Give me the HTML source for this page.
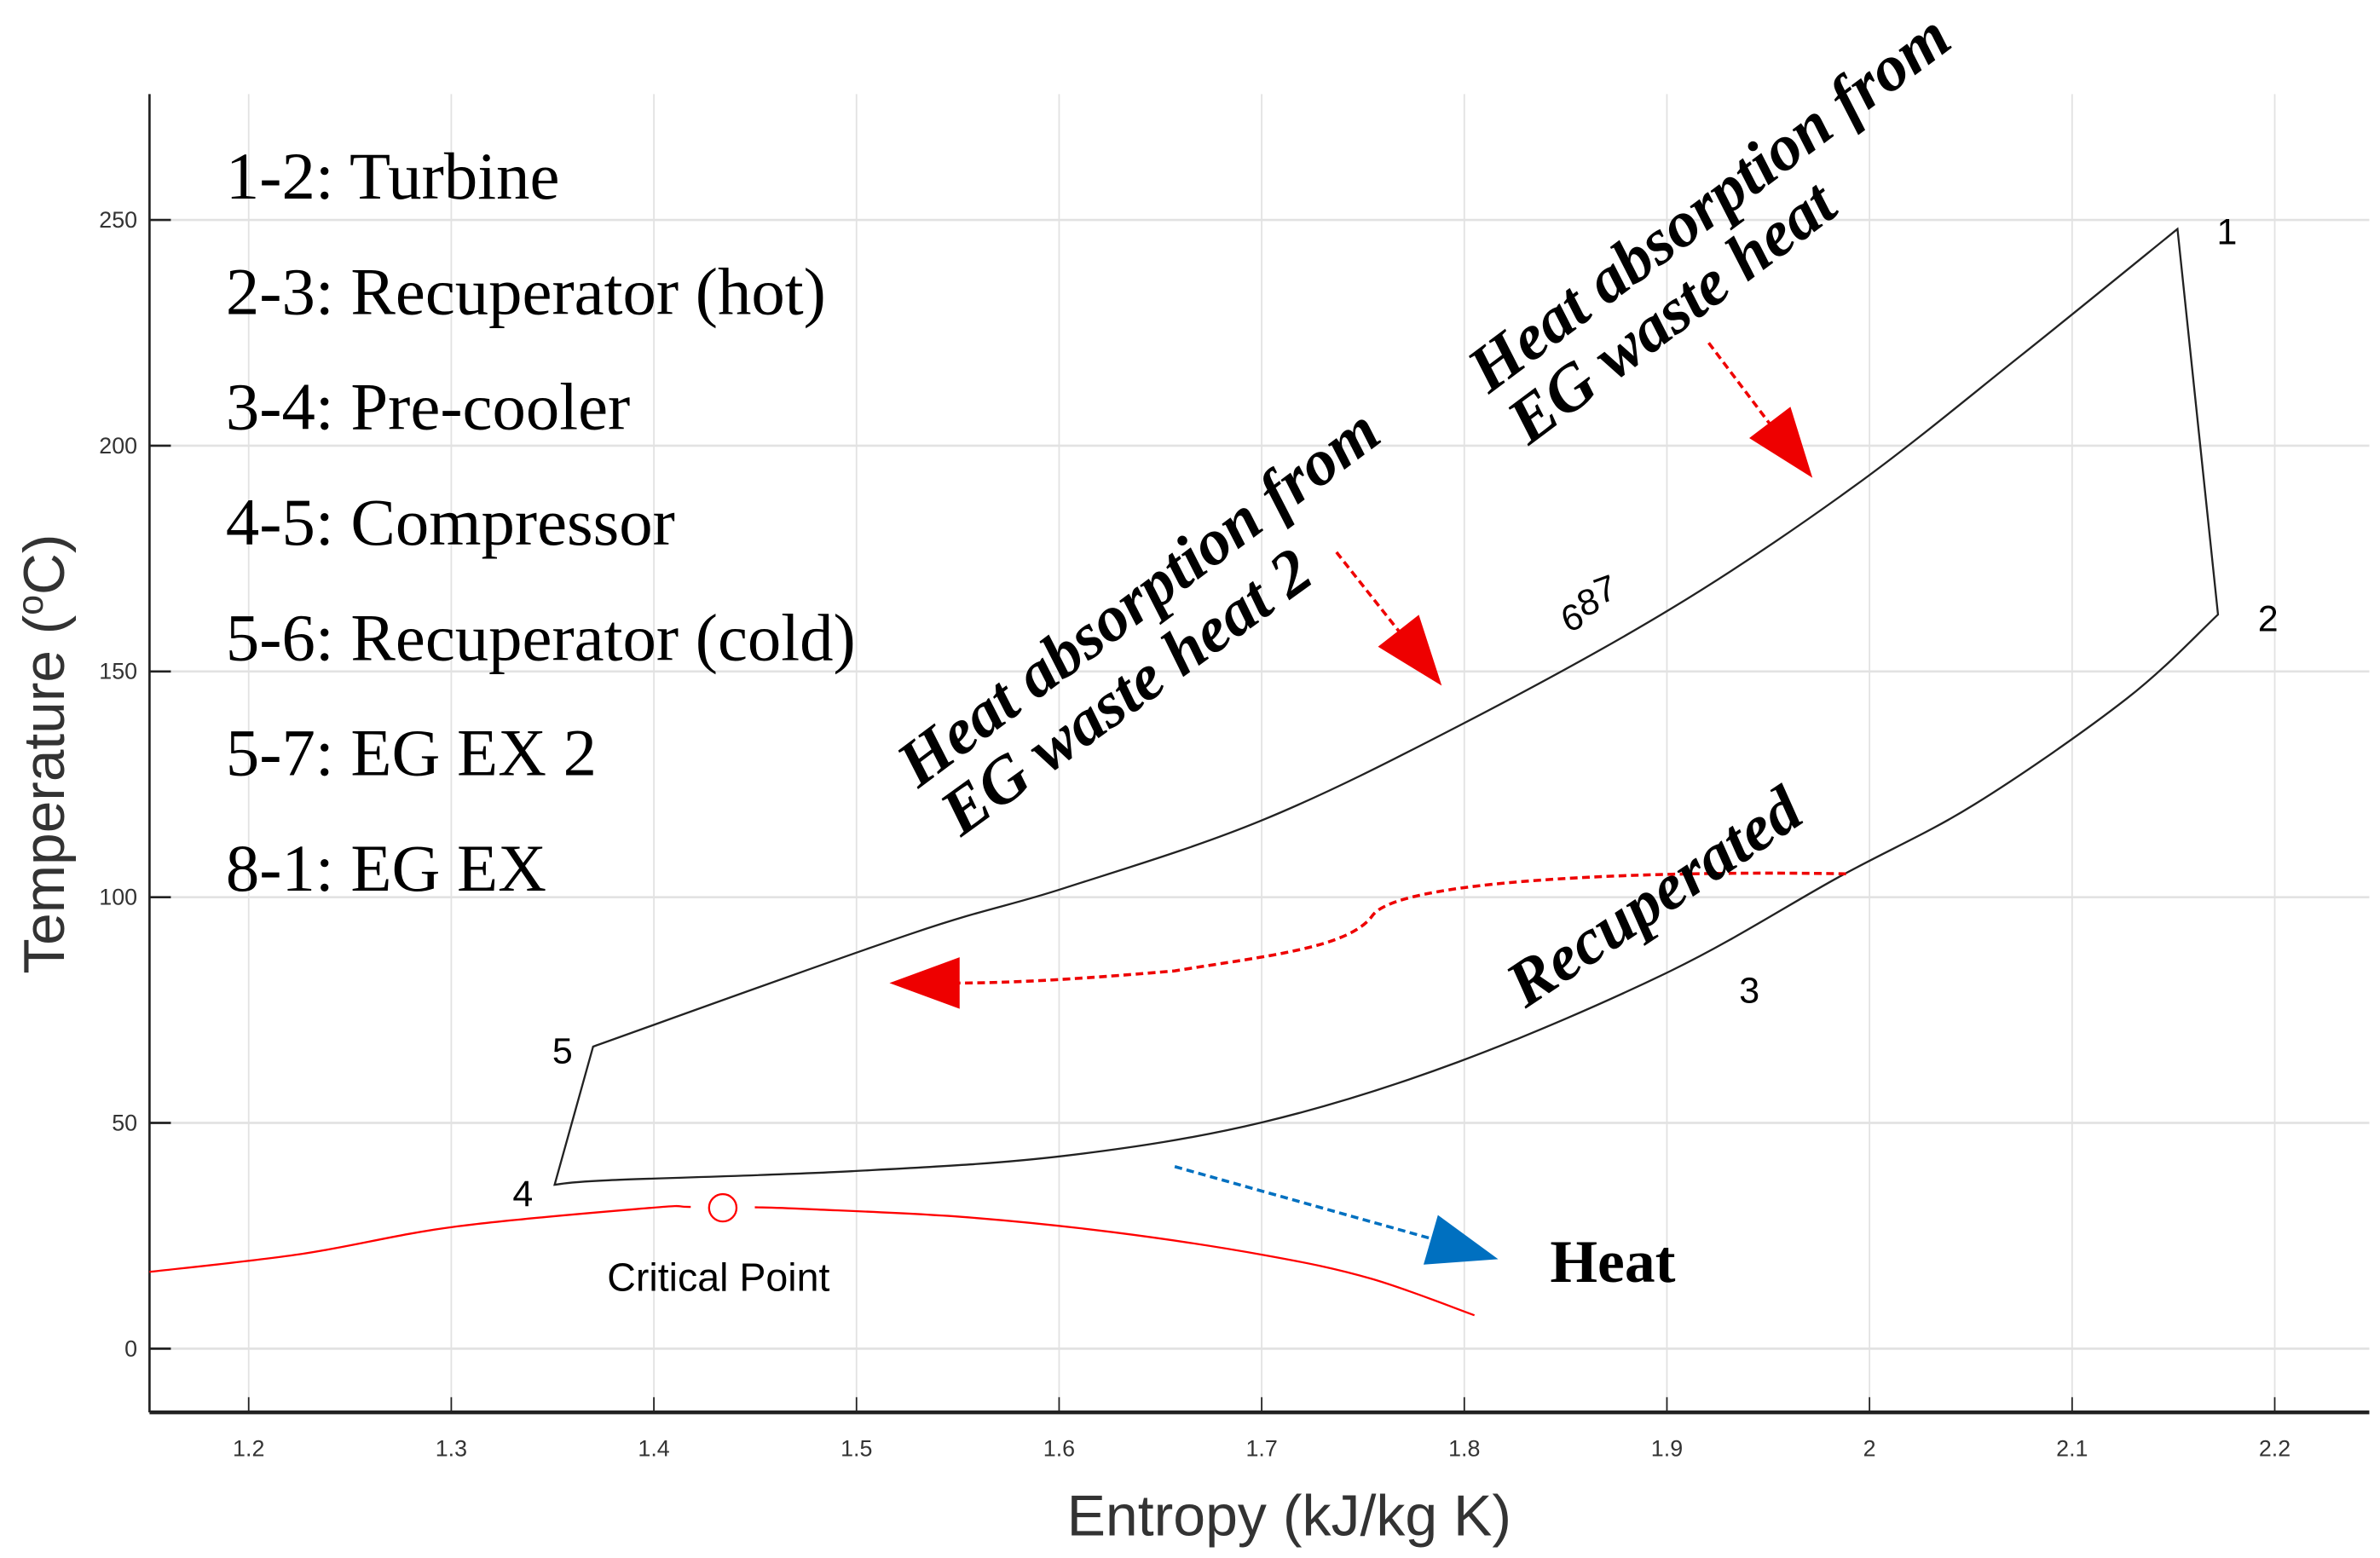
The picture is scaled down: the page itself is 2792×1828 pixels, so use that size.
<!DOCTYPE html>
<html><head><meta charset="utf-8"><style>
html,body{margin:0;padding:0;background:#fff;}
svg{display:block;}
.tk{font-family:"Liberation Sans",sans-serif;font-size:15px;fill:#333;}
.lg{font-family:"Liberation Serif",serif;font-size:44px;fill:#000;}
.bt{font-family:"Liberation Serif",serif;font-size:43px;font-weight:bold;font-style:italic;fill:#000;}
.pl{font-family:"Liberation Sans",sans-serif;font-size:24px;fill:#000;}
</style></head><body>
<svg id="chart" width="2792" height="1828" viewBox="0 0 1560 1027" preserveAspectRatio="none" xmlns="http://www.w3.org/2000/svg">
<g id="grid"></g>
<g id="axes"></g>
<g id="series"></g>
<g>
<text class="lg" x="148" y="131">1-2: Turbine</text>
<text class="lg" x="148" y="207">2-3: Recuperator (hot)</text>
<text class="lg" x="148" y="283">3-4: Pre-cooler</text>
<text class="lg" x="148" y="359">4-5: Compressor</text>
<text class="lg" x="148" y="435">5-6: Recuperator (cold)</text>
<text class="lg" x="148" y="511">5-7: EG EX 2</text>
<text class="lg" x="148" y="587">8-1: EG EX</text>
</g>
<g>
<text class="bt" transform="translate(602,520) rotate(-37)">Heat absorption from</text>
<text class="bt" transform="translate(630,552) rotate(-36)">EG waste heat 2</text>
<text class="bt" transform="translate(976,260) rotate(-37)">Heat absorption from</text>
<text class="bt" transform="translate(1002,294) rotate(-37)">EG waste heat</text>
<text class="bt" transform="translate(1000,665) rotate(-34)">Recuperated</text>
<text class="bt" x="1016" y="845" style="font-style:normal;font-size:40px">Heat</text>
<text class="pl" x="1453" y="161">1</text>
<text class="pl" x="1480" y="416">2</text>
<text class="pl" x="1140" y="661">3</text>
<text class="pl" x="336" y="795">4</text>
<text class="pl" x="362" y="701">5</text>
<text class="pl" transform="translate(1027,417) rotate(-20)">6<tspan dy="-6">8</tspan><tspan dy="-4">7</tspan></text>
<text class="pl" x="398" y="851" style="font-size:26px">Critical Point</text>
</g>
<text transform="translate(42,497) rotate(-90)" text-anchor="middle" style="font-family:'Liberation Sans',sans-serif;font-size:38px;fill:#333">Temperature (<tspan dy="-14" font-size="24">o</tspan><tspan dy="14">C)</tspan></text>
<text x="845" y="1012" text-anchor="middle" style="font-family:'Liberation Sans',sans-serif;font-size:38px;fill:#333">Entropy (kJ/kg K)</text>
</svg>
<script>
const xTicks=[1.2,1.3,1.4,1.5,1.6,1.7,1.8,1.9,2,2.1,2.2];
const yTicks=[0,50,100,150,200,250];
const cycleS=[1.370,1.5276,1.6025,1.700,1.7975,1.9024,1.9924,2.0748,2.152,2.172,2.127,2.052,1.985,1.902,1.797,1.700,1.6025,1.4976,1.3777,1.351];
const cycleT=[66.9,92,102,117,138,164,191,220,248,162.6,144,120.6,104.5,83.7,63.5,50.1,42.7,39.3,37.3,36.3];
const domeS=[1.151,1.2265,1.3015,1.3989,1.4176,1.4504,1.4766,1.5516,1.6265,1.7015,1.7540,1.805];
const domeT=[17,21,27,31.2,31.4,31.3,30.9,29.2,25.8,20.7,15.5,7.4];
const critS=[1.434];const critT=[31.2];
const NS='http://www.w3.org/2000/svg';
const X=s=>163+(s-1.2)*1328, Y=t=>889-t*2.976;
function mk(tag,attrs,parent){const e=document.createElementNS(NS,tag);for(const k in attrs)e.setAttribute(k,attrs[k]);parent.appendChild(e);return e;}
const grid=document.getElementById('grid'),axes=document.getElementById('axes'),ser=document.getElementById('series');
xTicks.forEach(v=>{const g=mk('line',{x1:X(v),x2:X(v),y1:62,y2:931,stroke:'#e2e2e2','stroke-width':1},grid);

const t=mk('line',{x1:X(v),x2:X(v),y1:921,y2:931,stroke:'#222','stroke-width':1},axes);

const l=mk('text',{x:X(v),y:960,'text-anchor':'middle',class:'tk'},axes);l.textContent=v;
});
yTicks.forEach(v=>{const g=mk('line',{x1:98,x2:1553,y1:Y(v),y2:Y(v),stroke:'#e2e2e2','stroke-width':1.5},grid);

const t=mk('line',{x1:98,x2:112,y1:Y(v),y2:Y(v),stroke:'#222','stroke-width':1.5},axes);

const l=mk('text',{x:90,y:Y(v)+5,'text-anchor':'end',class:'tk'},axes);l.textContent=v;
});
let a=mk('line',{x1:98,x2:98,y1:62,y2:931,stroke:'#222','stroke-width':1.5},axes);

a=mk('line',{x1:98,x2:1553,y1:931,y2:931,stroke:'#222','stroke-width':2.5},axes);

function smooth(pts){let d='M'+pts[0][0]+','+pts[0][1];const n=pts.length;
for(let i=0;i<n-1;i++){const p1=pts[i],p2=pts[i+1],q0=i==0?p1:pts[i-1],q3=i==n-2?p2:pts[i+2];
d+=` C${p1[0]+(p2[0]-q0[0])/6},${p1[1]+(p2[1]-q0[1])/6} ${p2[0]-(q3[0]-p1[0])/6},${p2[1]-(q3[1]-p1[1])/6} ${p2[0]},${p2[1]}`;}
return d;}
const P=cycleS.map((s,i)=>[X(s),Y(cycleT[i])]);
const up=P.slice(0,9),low=P.slice(9);
let cd=smooth(up)+' L'+low[0][0]+','+low[0][1]+smooth(low).replace(/^M[^C]*/,' ')+' Z';
let c=mk('path',{d:cd,fill:'none',stroke:'#222','stroke-width':1.3},ser);

let dm=mk('path',{d:smooth(domeS.map((s,i)=>[X(s),Y(domeT[i])])),fill:'none',stroke:'#f00','stroke-width':1.3},ser);

let wm=mk('rect',{x:X(critS[0])-21,y:Y(critT[0])-6,width:42,height:12,fill:'#fff'},ser);

let cp=mk('circle',{cx:X(critS[0]),cy:Y(critT[0]),r:9,fill:'none',stroke:'#f00','stroke-width':1.3},ser);

function arrow(d,tip,dir,color,name){const g=mk('g',{},ser);
mk('path',{d:d,fill:'none',stroke:color,'stroke-width':2,'stroke-dasharray':'5,3'},g);
const [tx,ty]=tip,ang=Math.atan2(dir[1],dir[0]),L=46,W=17;
const bx=tx-L*Math.cos(ang),by=ty-L*Math.sin(ang),px=-Math.sin(ang)*W,py=Math.cos(ang)*W;
mk('polygon',{points:`${tx},${ty} ${bx+px},${by+py} ${bx-px},${by-py}`,fill:color},g);}
arrow('M1120,226 L1162,282',[1188,315],[68,89],'#e00','arrow-eg-waste-heat');
arrow('M876,364 L920,420',[945,452],[69,88],'#e00','arrow-eg-waste-heat-2');
arrow('M1210,576 C1100,574 920,578 900,603 C885,625 830,630 770,640 C700,646 660,648 625,648',[583,648],[-1,0],'#e00','arrow-recuperated');
arrow('M770,769 L940,817',[982,830],[212,61],'#0070c0','arrow-heat-rejection');
</script>
</body></html>
